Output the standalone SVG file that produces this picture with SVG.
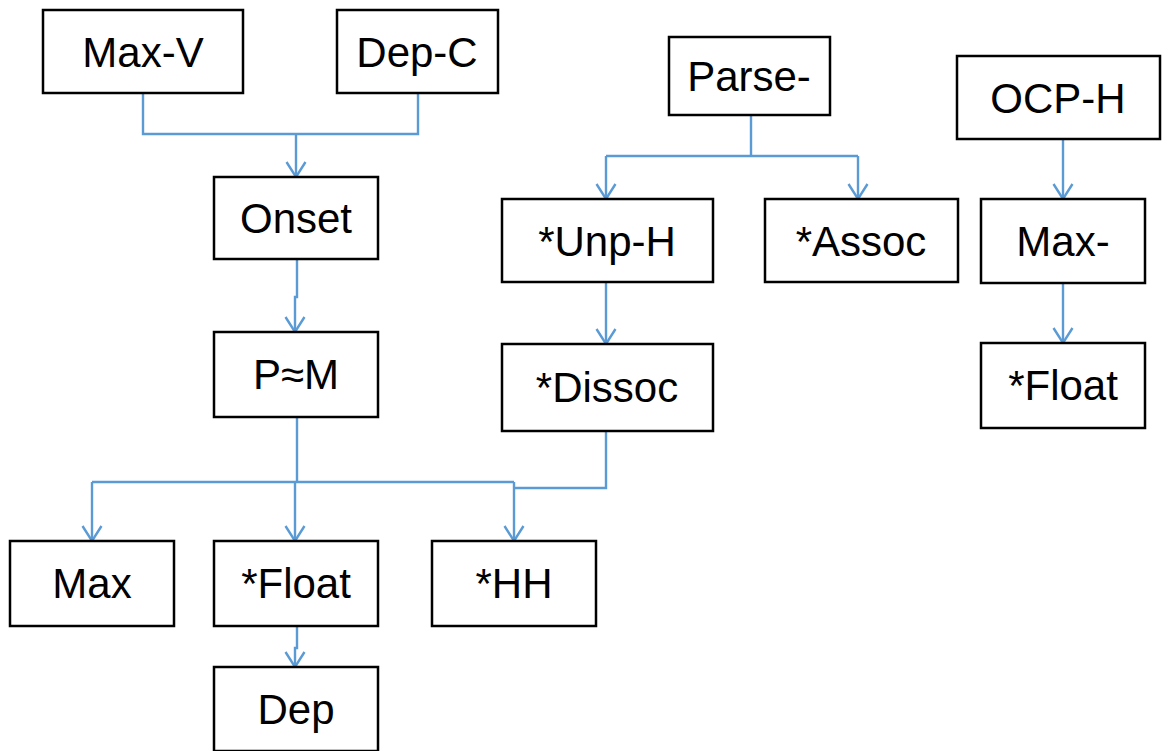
<svg xmlns="http://www.w3.org/2000/svg" width="1172" height="751" viewBox="0 0 1172 751">
<defs>
<style>
.box{fill:#fff;stroke:#000;stroke-width:2.5}
.lbl{font-family:"Liberation Sans",Arial,sans-serif;font-size:42px;fill:#000;text-anchor:middle}
.c{fill:none;stroke:#5B9BD5;stroke-width:2.4}
</style>
<marker id="ah" viewBox="0 0 20 22" refX="18" refY="11" markerWidth="20" markerHeight="22" markerUnits="userSpaceOnUse" orient="auto">
<path d="M3,1.5 L18,11 L3,20.5" fill="none" stroke="#5B9BD5" stroke-width="2.4"/>
</marker>
</defs>
<rect width="1172" height="751" fill="#fff"/>
<g id="connectors">
<path class="c" d="M143,93 V134 H418 V93"/>
<path class="c" d="M296,134 V177" marker-end="url(#ah)"/>
<path class="c" d="M297,259 V297 H295 V332" marker-end="url(#ah)"/>
<path class="c" d="M297,417 V482"/>
<path class="c" d="M92,482 H514"/>
<path class="c" d="M92,482 V541" marker-end="url(#ah)"/>
<path class="c" d="M295,482 V541" marker-end="url(#ah)"/>
<path class="c" d="M514,482 V541" marker-end="url(#ah)"/>
<path class="c" d="M606,431 V488 H514"/>
<path class="c" d="M297,626 V648 H295 V667" marker-end="url(#ah)"/>
<path class="c" d="M751,115 V156"/>
<path class="c" d="M606,156 H858"/>
<path class="c" d="M606,156 V199" marker-end="url(#ah)"/>
<path class="c" d="M858,156 V199" marker-end="url(#ah)"/>
<path class="c" d="M606,282 V344" marker-end="url(#ah)"/>
<path class="c" d="M1063,139 V199" marker-end="url(#ah)"/>
<path class="c" d="M1063,283 V343" marker-end="url(#ah)"/>
</g>
<g id="max-v"><rect class="box" x="43" y="10" width="200" height="83"/><text class="lbl" x="143" y="67">Max-V</text></g>
<g id="dep-c"><rect class="box" x="337" y="10" width="161" height="83"/><text class="lbl" x="417" y="67">Dep-C</text></g>
<g id="onset"><rect class="box" x="214" y="177" width="164" height="82"/><text class="lbl" x="296" y="233">Onset</text></g>
<g id="pm"><rect class="box" x="214" y="332" width="164" height="85"/><text class="lbl" x="296" y="389">P≈M</text></g>
<g id="max"><rect class="box" x="10" y="541" width="164" height="85"/><text class="lbl" x="92" y="598">Max</text></g>
<g id="float1"><rect class="box" x="214" y="541" width="164" height="85"/><text class="lbl" x="296" y="598">*Float</text></g>
<g id="hh"><rect class="box" x="432" y="541" width="164" height="85"/><text class="lbl" x="514" y="598">*HH</text></g>
<g id="dep"><rect class="box" x="214" y="667" width="164" height="84"/><text class="lbl" x="296" y="724">Dep</text></g>
<g id="parse"><rect class="box" x="669" y="37" width="161" height="78"/><text class="lbl" x="749" y="91">Parse-</text></g>
<g id="unp-h"><rect class="box" x="502" y="199" width="211" height="83"/><text class="lbl" x="607" y="256">*Unp-H</text></g>
<g id="assoc"><rect class="box" x="765" y="199" width="193" height="83"/><text class="lbl" x="861" y="256">*Assoc</text></g>
<g id="dissoc"><rect class="box" x="502" y="344" width="211" height="87"/><text class="lbl" x="607" y="402">*Dissoc</text></g>
<g id="ocp-h"><rect class="box" x="957" y="56" width="203" height="83"/><text class="lbl" x="1058" y="113">OCP-H</text></g>
<g id="max-"><rect class="box" x="981" y="199" width="164" height="84"/><text class="lbl" x="1063" y="256">Max-</text></g>
<g id="float2"><rect class="box" x="981" y="343" width="164" height="85"/><text class="lbl" x="1063" y="400">*Float</text></g>
</svg>
